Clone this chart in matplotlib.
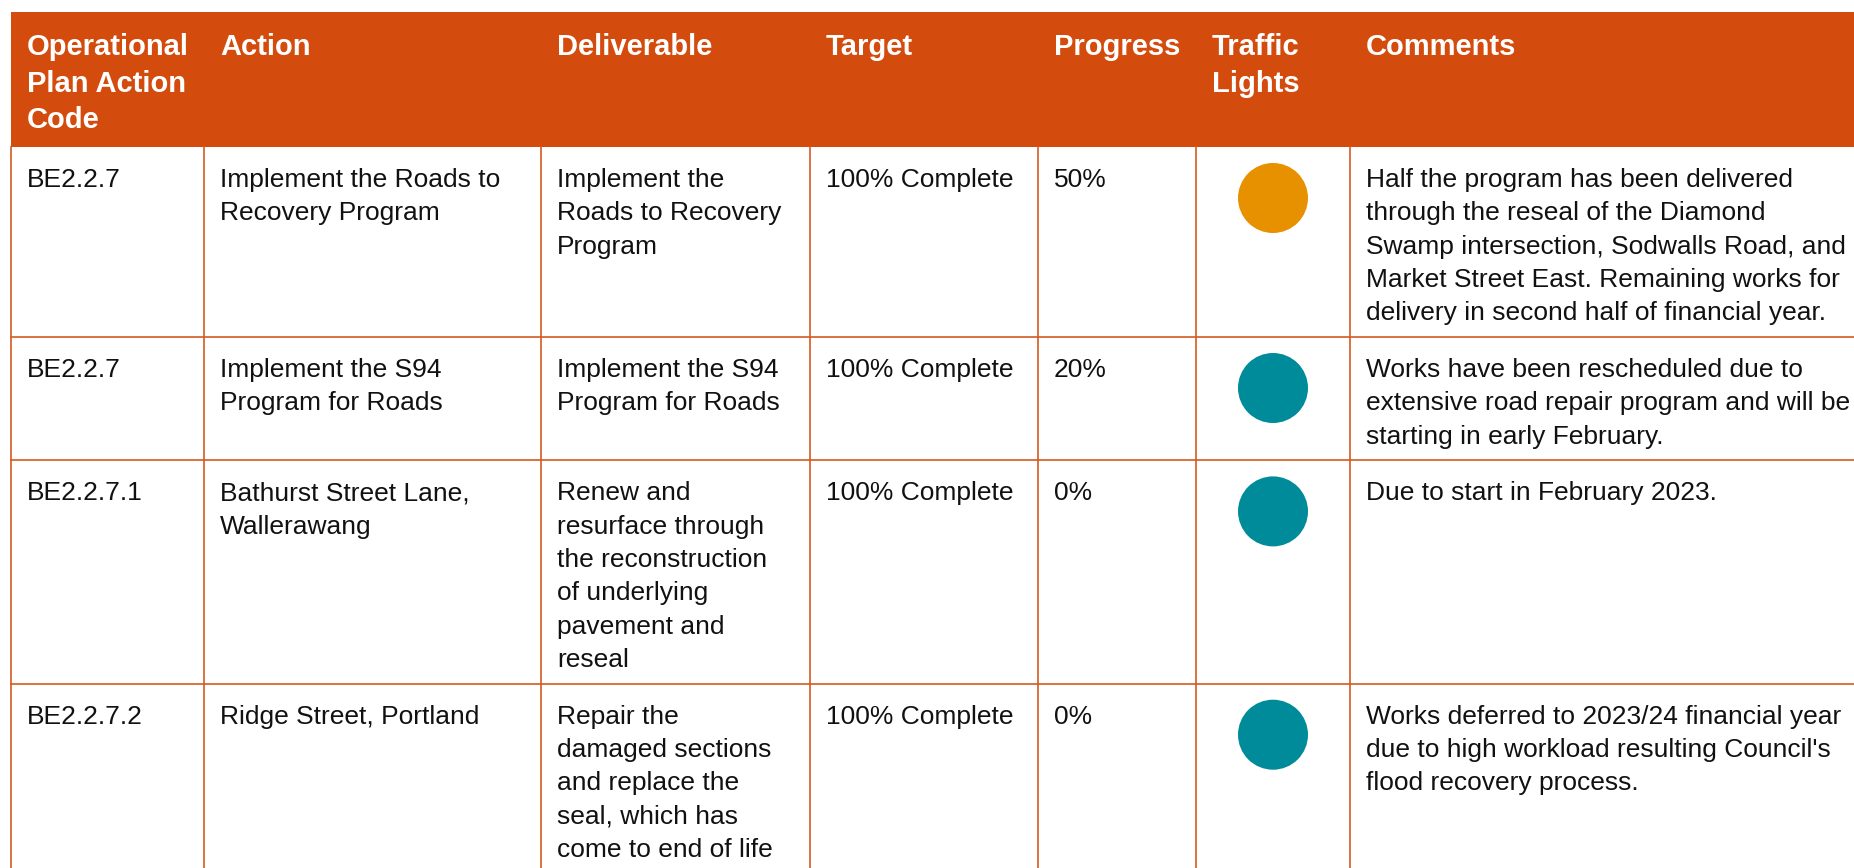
import matplotlib
matplotlib.use("Agg")
import matplotlib.pyplot as plt
from matplotlib.patches import Rectangle, Circle

plt.rcParams['font.family'] = ['Liberation Sans', 'DejaVu Sans']

# table content
headers = ['Operational\nPlan Action\nCode', 'Action', 'Deliverable', 'Target',
           'Progress', 'Traffic\nLights', 'Comments']

codes = ['BE2.2.7', 'BE2.2.7', 'BE2.2.7.1', 'BE2.2.7.2']
actions = ['Implement the Roads to\nRecovery Program',
           'Implement the S94\nProgram for Roads',
           'Bathurst Street Lane,\nWallerawang',
           'Ridge Street, Portland']
deliverables = ['Implement the\nRoads to Recovery\nProgram',
                'Implement the S94\nProgram for Roads',
                'Renew and\nresurface through\nthe reconstruction\nof underlying\npavement and\nreseal',
                'Repair the\ndamaged sections\nand replace the\nseal, which has\ncome to end of life']
targets = ['100% Complete'] * 4
progress = ['50%', '20%', '0%', '0%']
lights = ['amber', 'teal', 'teal', 'teal']
comments = ['Half the program has been delivered\nthrough the reseal of the Diamond\n'
            'Swamp intersection, Sodwalls Road, and\nMarket Street East. Remaining works for\n'
            'delivery in second half of financial year.',
            'Works have been rescheduled due to\nextensive road repair program and will be\n'
            'starting in early February.',
            'Due to start in February 2023.',
            'Works deferred to 2023/24 financial year\ndue to high workload resulting Council\'s\n'
            'flood recovery process.']

light_colors = {'amber': '#E89100', 'teal': '#008B9B'}
header_color = '#D34B0D'
line_color = '#D65A20'

W, H = 1854, 868
col_edges = [11, 204, 541, 810, 1038, 1196, 1350, 1900]
header_top, header_bot = 12, 147
pad_x = 16
line_h = 33.3

fig = plt.figure(figsize=(W / 100, H / 100), dpi=100)
ax = fig.add_axes([0, 0, 1, 1])
ax.set_xlim(0, W)
ax.set_ylim(H, 0)
ax.axis('off')

# header band
ax.add_patch(Rectangle((col_edges[0], header_top), W, header_bot - header_top,
                       facecolor=header_color, edgecolor='none'))
for i, h in enumerate(headers):
    for k, ln in enumerate(h.split('\n')):
        ax.text(col_edges[i] + pad_x, header_top + 43 + k * 36.5, ln,
                color='white', fontsize=21, fontweight='bold', va='baseline', ha='left')

# body rows
rows = list(zip(codes, actions, deliverables, targets, progress, comments))
top = header_bot
row_tops = []
for r, cells in enumerate(rows):
    n = max(c.count('\n') + 1 for c in cells)
    height = n * line_h + 23.5
    row_tops.append(top)
    for c, txt in enumerate(cells):
        ci = c if c < 5 else 6
        for k, ln in enumerate(txt.split('\n')):
            ax.text(col_edges[ci] + pad_x, top + 40 + k * line_h, ln,
                    color='#111111', fontsize=19, va='baseline', ha='left')
    cx = (col_edges[5] + col_edges[6]) / 2
    ax.add_patch(Circle((cx, top + 51), 35, facecolor=light_colors[lights[r]],
                        edgecolor='none'))
    top += height
    ax.plot([col_edges[0], W], [top, top], color=line_color, lw=1.2)

# vertical grid lines
for x in col_edges[:-1]:
    ax.plot([x, x], [header_bot, H + 50], color=line_color, lw=1.2)

fig.savefig('out.png', dpi=100)
